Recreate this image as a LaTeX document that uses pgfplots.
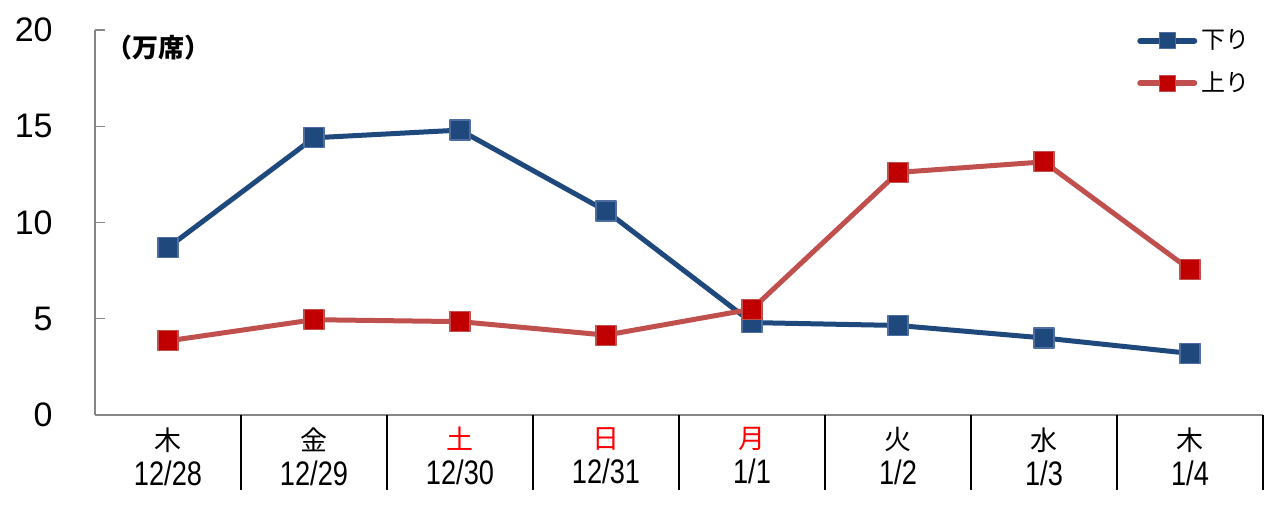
\documentclass[border=0pt]{standalone}
\usepackage{pgfplots}
\pgfplotsset{compat=1.18}
\usepackage{fontspec}
\setmainfont{Noto Sans CJK JP}
\newfontfamily\arial{Liberation Sans}
\newfontfamily\narrow[FakeStretch=0.8]{Liberation Sans}
\newcommand\dt[1]{{\narrow\fontsize{17}{17}\selectfont #1}}
\definecolor{dnblue}{RGB}{31,73,125}
\definecolor{dnblueedge}{RGB}{79,110,160}
\definecolor{upred}{RGB}{192,80,77}
\definecolor{upfill}{RGB}{192,0,0}
\definecolor{axgray}{RGB}{134,134,134}
\begin{document}
\begin{tikzpicture}
\useasboundingbox (0,0) rectangle (640pt,253pt);
\begin{axis}[
  at={(47.5pt,45.5pt)}, anchor=origin,
  scale only axis, width=584pt, height=192.5pt,
  xmin=0, xmax=8, ymin=0, ymax=20,
  axis x line=bottom, axis y line=left,
  axis line style={axgray, line width=0.6pt, -},
  ytick={0,5,10,15,20},
  tick align=inside,
  major tick length=5pt,
  ytick style={axgray, line width=0.6pt},
  yticklabel style={font=\arial\fontsize{17}{20}\selectfont, inner sep=0pt, anchor=east, xshift=-21pt},
  /pgf/number format/assume math mode=true,
  xtick={0.5,1.5,2.5,3.5,4.5,5.5,6.5,7.5},
  x tick style={draw=none},
  minor xtick={1,2,3,4,5,6,7,8},
  minor tick length=3.5pt,
  minor x tick style={axgray, line width=0.6pt},
  xticklabels={{木\\\dt{12/28}},{金\\\dt{12/29}},{\textcolor{red}{土}\\\dt{12/30}},{\textcolor{red}{日}\\\dt{12/31}},{\textcolor{red}{月}\\\dt{1/1}},{火\\\dt{1/2}},{水\\\dt{1/3}},{木\\\dt{1/4}}},
  xticklabel style={align=center, font=\fontsize{13.5}{17.5}\selectfont, inner sep=0pt, anchor=north, yshift=-6pt},
  clip=false,
  legend style={draw=none, fill=none, at={(rel axis cs:0.892,1.012)}, anchor=north west,
    font=\fontsize{12}{14}\selectfont, row sep=6pt, inner sep=0pt},
  legend cell align=left,
  legend image code/.code={\draw[mark repeat=2,mark phase=2,#1,mark size=4pt,line width=3pt] plot coordinates {(0pt,0pt)(13.5pt,0pt)(27pt,0pt)};},
]
\addplot[dnblue, line width=2.5pt, line cap=round, line join=round, mark=square*,
  mark size=5pt, mark options={fill=dnblue, draw=dnblueedge, line width=0.6pt}]
  coordinates {(0.5,8.7) (1.5,14.4) (2.5,14.8) (3.5,10.6) (4.5,4.8) (5.5,4.65) (6.5,4.0) (7.5,3.2)};
\addlegendentry{下り}
\addplot[upred, line width=2.5pt, line cap=round, line join=round, mark=square*,
  mark size=5pt, mark options={fill=upfill, draw=upred, line width=0.6pt}]
  coordinates {(0.5,3.85) (1.5,4.95) (2.5,4.85) (3.5,4.15) (4.5,5.5) (5.5,12.6) (6.5,13.15) (7.5,7.55)};
\addlegendentry{上り}
\pgfplotsinvokeforeach{1,2,3,4,5,6,7,8}{
  \draw[black, line width=1.1pt] (axis cs:#1,0) -- ++(0,-37.5pt);
}
\node[font=\bfseries\fontsize{13}{15}\selectfont] at (rel axis cs:0.054,0.953) {（万席）};
\end{axis}
\end{tikzpicture}
\end{document}
